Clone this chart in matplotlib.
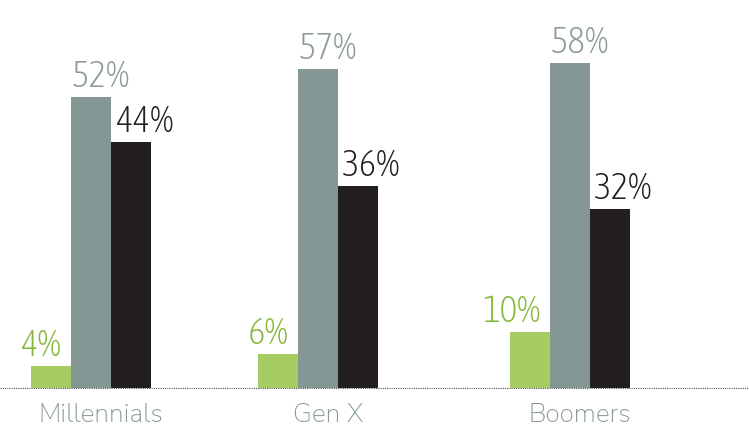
import numpy as np
import matplotlib.pyplot as plt

groups = ["Millennials", "Gen X", "Boomers"]
green_vals = [4, 6, 10]
gray_vals = [52, 57, 58]
black_vals = [44, 36, 32]

# layout (pixel units on a 749x429 canvas)
W, H = 749, 429
centers = [91, 318, 570]
bw = 40
base_px = 41
scale = 5.6  # px per percent

c_green, c_green_txt = "#a7cc62", "#86b83a"
c_gray, c_gray_txt = "#859795", "#8a9b99"
c_black = "#231f20"

num_font = ["Asap Condensed", "DejaVu Sans"]
cat_font = ["Nunito Sans", "Lato", "DejaVu Sans"]

fig = plt.figure(figsize=(W / 100, H / 100), dpi=100)
ax = fig.add_axes([0, base_px / H, 1, 1 - base_px / H])
ax.set_xlim(0, W)
ax.set_ylim(0, (H - base_px) / scale)
ax.axis("off")

x = np.array(centers)
series = [
    (green_vals, -bw, c_green, c_green_txt),
    (gray_vals, 0, c_gray, c_gray_txt),
    (black_vals, bw, c_black, c_black),
]
for i, (vals, off, col, tcol) in enumerate(series):
    ax.bar(x + off, vals, width=bw, color=col, linewidth=0)
    for xi, v in zip(x + off, vals):
        if i == 0:
            tx, ha = xi - bw / 2 + 30, "right"
        elif i == 1:
            tx, ha = xi - bw / 2 + 1, "left"
        else:
            tx, ha = xi - bw / 2 + 4, "left"
        ax.text(tx, v + 10 / scale, f"{v}%", ha=ha, va="baseline",
                fontsize=27, color=tcol, family=num_font, fontweight=200)

# dotted baseline
fig.add_artist(plt.Line2D([0, 1], [base_px / H, base_px / H], color="#555555",
                          linewidth=0.8, linestyle=(0, (1, 1))))

for xc, name in zip(x, groups):
    ax.text(xc + 10, -27 / scale, name, ha="center", va="center",
            fontsize=19, color=c_gray_txt, family=cat_font, fontweight=300,
            clip_on=False)

fig.savefig("out.png", dpi=100)
